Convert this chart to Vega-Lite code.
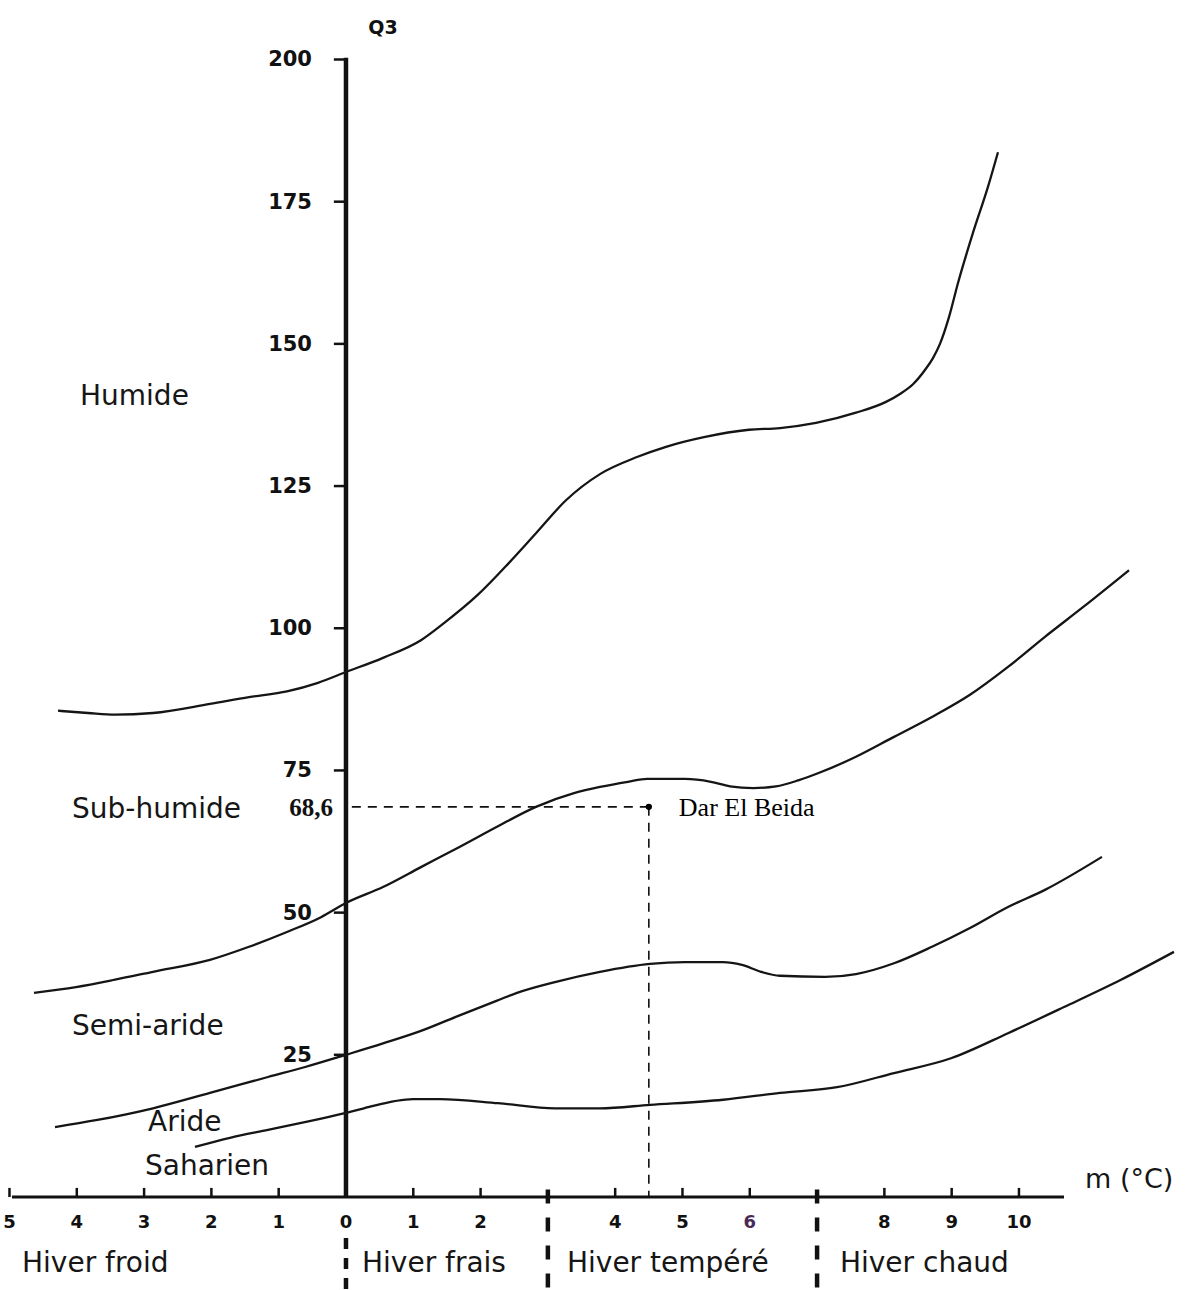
{
  "$schema": "https://vega.github.io/schema/vega-lite/v6.json",
  "width": 1185,
  "height": 1290,
  "autosize": "none",
  "padding": 0,
  "background": "white",
  "config": {"view": {"stroke": null}, "axis": {"disable": true}},
  "datasets": {
    "boundaries": [
      {"boundary": "Humide / Sub-humide", "m": -4.279, "Q3": 85.5},
      {"boundary": "Humide / Sub-humide", "m": -3.834, "Q3": 85.1},
      {"boundary": "Humide / Sub-humide", "m": -3.432, "Q3": 84.8},
      {"boundary": "Humide / Sub-humide", "m": -2.868, "Q3": 85.1},
      {"boundary": "Humide / Sub-humide", "m": -2.021, "Q3": 86.7},
      {"boundary": "Humide / Sub-humide", "m": -1.441, "Q3": 87.9},
      {"boundary": "Humide / Sub-humide", "m": -0.877, "Q3": 88.9},
      {"boundary": "Humide / Sub-humide", "m": -0.416, "Q3": 90.4},
      {"boundary": "Humide / Sub-humide", "m": 0, "Q3": 92.3},
      {"boundary": "Humide / Sub-humide", "m": 0.55, "Q3": 94.8},
      {"boundary": "Humide / Sub-humide", "m": 1.114, "Q3": 97.9},
      {"boundary": "Humide / Sub-humide", "m": 1.456, "Q3": 100.9},
      {"boundary": "Humide / Sub-humide", "m": 1.961, "Q3": 105.9},
      {"boundary": "Humide / Sub-humide", "m": 2.422, "Q3": 111.5},
      {"boundary": "Humide / Sub-humide", "m": 2.823, "Q3": 116.7},
      {"boundary": "Humide / Sub-humide", "m": 3.269, "Q3": 122.5},
      {"boundary": "Humide / Sub-humide", "m": 3.774, "Q3": 127.1},
      {"boundary": "Humide / Sub-humide", "m": 4.324, "Q3": 130.1},
      {"boundary": "Humide / Sub-humide", "m": 4.755, "Q3": 131.9},
      {"boundary": "Humide / Sub-humide", "m": 5.319, "Q3": 133.6},
      {"boundary": "Humide / Sub-humide", "m": 5.988, "Q3": 134.9},
      {"boundary": "Humide / Sub-humide", "m": 6.449, "Q3": 135.2},
      {"boundary": "Humide / Sub-humide", "m": 6.984, "Q3": 136.1},
      {"boundary": "Humide / Sub-humide", "m": 7.578, "Q3": 137.9},
      {"boundary": "Humide / Sub-humide", "m": 8.024, "Q3": 139.8},
      {"boundary": "Humide / Sub-humide", "m": 8.232, "Q3": 141.2},
      {"boundary": "Humide / Sub-humide", "m": 8.425, "Q3": 142.9},
      {"boundary": "Humide / Sub-humide", "m": 8.603, "Q3": 145.4},
      {"boundary": "Humide / Sub-humide", "m": 8.722, "Q3": 147.5},
      {"boundary": "Humide / Sub-humide", "m": 8.826, "Q3": 150.0},
      {"boundary": "Humide / Sub-humide", "m": 8.96, "Q3": 154.7},
      {"boundary": "Humide / Sub-humide", "m": 9.094, "Q3": 160.7},
      {"boundary": "Humide / Sub-humide", "m": 9.316, "Q3": 169.5},
      {"boundary": "Humide / Sub-humide", "m": 9.539, "Q3": 177.6},
      {"boundary": "Humide / Sub-humide", "m": 9.688, "Q3": 183.7},

      {"boundary": "Sub-humide / Semi-aride", "m": -4.636, "Q3": 35.9},
      {"boundary": "Sub-humide / Semi-aride", "m": -4.012, "Q3": 36.9},
      {"boundary": "Sub-humide / Semi-aride", "m": -3.432, "Q3": 38.2},
      {"boundary": "Sub-humide / Semi-aride", "m": -2.868, "Q3": 39.6},
      {"boundary": "Sub-humide / Semi-aride", "m": -2.021, "Q3": 41.7},
      {"boundary": "Sub-humide / Semi-aride", "m": -1.441, "Q3": 44.0},
      {"boundary": "Sub-humide / Semi-aride", "m": -0.877, "Q3": 46.6},
      {"boundary": "Sub-humide / Semi-aride", "m": -0.371, "Q3": 49.2},
      {"boundary": "Sub-humide / Semi-aride", "m": 0, "Q3": 51.7},
      {"boundary": "Sub-humide / Semi-aride", "m": 0.55, "Q3": 54.5},
      {"boundary": "Sub-humide / Semi-aride", "m": 1.114, "Q3": 58.0},
      {"boundary": "Sub-humide / Semi-aride", "m": 1.679, "Q3": 61.5},
      {"boundary": "Sub-humide / Semi-aride", "m": 2.244, "Q3": 65.1},
      {"boundary": "Sub-humide / Semi-aride", "m": 2.823, "Q3": 68.6},
      {"boundary": "Sub-humide / Semi-aride", "m": 3.388, "Q3": 71.0},
      {"boundary": "Sub-humide / Semi-aride", "m": 3.774, "Q3": 72.1},
      {"boundary": "Sub-humide / Semi-aride", "m": 4.19, "Q3": 73.0},
      {"boundary": "Sub-humide / Semi-aride", "m": 4.473, "Q3": 73.5},
      {"boundary": "Sub-humide / Semi-aride", "m": 5.037, "Q3": 73.5},
      {"boundary": "Sub-humide / Semi-aride", "m": 5.423, "Q3": 73.0},
      {"boundary": "Sub-humide / Semi-aride", "m": 5.706, "Q3": 72.2},
      {"boundary": "Sub-humide / Semi-aride", "m": 6.05, "Q3": 71.9},
      {"boundary": "Sub-humide / Semi-aride", "m": 6.389, "Q3": 72.2},
      {"boundary": "Sub-humide / Semi-aride", "m": 6.731, "Q3": 73.3},
      {"boundary": "Sub-humide / Semi-aride", "m": 7.013, "Q3": 74.5},
      {"boundary": "Sub-humide / Semi-aride", "m": 7.578, "Q3": 77.4},
      {"boundary": "Sub-humide / Semi-aride", "m": 8.143, "Q3": 80.9},
      {"boundary": "Sub-humide / Semi-aride", "m": 8.707, "Q3": 84.4},
      {"boundary": "Sub-humide / Semi-aride", "m": 9.272, "Q3": 88.3},
      {"boundary": "Sub-humide / Semi-aride", "m": 9.837, "Q3": 93.2},
      {"boundary": "Sub-humide / Semi-aride", "m": 10.386, "Q3": 98.5},
      {"boundary": "Sub-humide / Semi-aride", "m": 10.951, "Q3": 103.7},
      {"boundary": "Sub-humide / Semi-aride", "m": 11.635, "Q3": 110.2},

      {"boundary": "Semi-aride / Aride", "m": -4.324, "Q3": 12.3},
      {"boundary": "Semi-aride / Aride", "m": -3.715, "Q3": 13.5},
      {"boundary": "Semi-aride / Aride", "m": -2.868, "Q3": 15.6},
      {"boundary": "Semi-aride / Aride", "m": -2.021, "Q3": 18.3},
      {"boundary": "Semi-aride / Aride", "m": -1.159, "Q3": 21.1},
      {"boundary": "Semi-aride / Aride", "m": -0.594, "Q3": 22.9},
      {"boundary": "Semi-aride / Aride", "m": 0, "Q3": 25.0},
      {"boundary": "Semi-aride / Aride", "m": 0.55, "Q3": 27.0},
      {"boundary": "Semi-aride / Aride", "m": 1.114, "Q3": 29.2},
      {"boundary": "Semi-aride / Aride", "m": 1.679, "Q3": 31.9},
      {"boundary": "Semi-aride / Aride", "m": 2.259, "Q3": 34.6},
      {"boundary": "Semi-aride / Aride", "m": 2.541, "Q3": 35.9},
      {"boundary": "Semi-aride / Aride", "m": 3.105, "Q3": 37.8},
      {"boundary": "Semi-aride / Aride", "m": 3.774, "Q3": 39.6},
      {"boundary": "Semi-aride / Aride", "m": 4.517, "Q3": 41.0},
      {"boundary": "Semi-aride / Aride", "m": 5.037, "Q3": 41.3},
      {"boundary": "Semi-aride / Aride", "m": 5.602, "Q3": 41.3},
      {"boundary": "Semi-aride / Aride", "m": 5.884, "Q3": 40.8},
      {"boundary": "Semi-aride / Aride", "m": 6.166, "Q3": 39.6},
      {"boundary": "Semi-aride / Aride", "m": 6.449, "Q3": 38.9},
      {"boundary": "Semi-aride / Aride", "m": 7.117, "Q3": 38.7},
      {"boundary": "Semi-aride / Aride", "m": 7.578, "Q3": 39.2},
      {"boundary": "Semi-aride / Aride", "m": 8.143, "Q3": 41.1},
      {"boundary": "Semi-aride / Aride", "m": 8.707, "Q3": 44.0},
      {"boundary": "Semi-aride / Aride", "m": 9.272, "Q3": 47.3},
      {"boundary": "Semi-aride / Aride", "m": 9.837, "Q3": 51.0},
      {"boundary": "Semi-aride / Aride", "m": 10.386, "Q3": 54.0},
      {"boundary": "Semi-aride / Aride", "m": 11.233, "Q3": 59.8},

      {"boundary": "Aride / Saharien", "m": -2.244, "Q3": 8.8},
      {"boundary": "Aride / Saharien", "m": -1.724, "Q3": 10.4},
      {"boundary": "Aride / Saharien", "m": -1.159, "Q3": 11.8},
      {"boundary": "Aride / Saharien", "m": -0.594, "Q3": 13.2},
      {"boundary": "Aride / Saharien", "m": 0, "Q3": 14.8},
      {"boundary": "Aride / Saharien", "m": 0.267, "Q3": 15.6},
      {"boundary": "Aride / Saharien", "m": 0.996, "Q3": 17.2},
      {"boundary": "Aride / Saharien", "m": 1.397, "Q3": 17.2},
      {"boundary": "Aride / Saharien", "m": 2.259, "Q3": 16.5},
      {"boundary": "Aride / Saharien", "m": 3.105, "Q3": 15.6},
      {"boundary": "Aride / Saharien", "m": 3.774, "Q3": 15.6},
      {"boundary": "Aride / Saharien", "m": 4.517, "Q3": 16.2},
      {"boundary": "Aride / Saharien", "m": 5.602, "Q3": 17.1},
      {"boundary": "Aride / Saharien", "m": 6.449, "Q3": 18.3},
      {"boundary": "Aride / Saharien", "m": 7.296, "Q3": 19.3},
      {"boundary": "Aride / Saharien", "m": 8.143, "Q3": 21.8},
      {"boundary": "Aride / Saharien", "m": 8.99, "Q3": 24.4},
      {"boundary": "Aride / Saharien", "m": 9.837, "Q3": 28.8},
      {"boundary": "Aride / Saharien", "m": 10.669, "Q3": 33.4},
      {"boundary": "Aride / Saharien", "m": 11.516, "Q3": 38.2},
      {"boundary": "Aride / Saharien", "m": 12.303, "Q3": 43.1}
    ],
    "qticks": [
      {"Q3": 200, "label": "200"},
      {"Q3": 175, "label": "175"},
      {"Q3": 150, "label": "150"},
      {"Q3": 125, "label": "125"},
      {"Q3": 100, "label": "100"},
      {"Q3": 75, "label": "75"},
      {"Q3": 50, "label": "50"},
      {"Q3": 25, "label": "25"}
    ],
    "mticks": [
      {"m": -5, "label": "5"},
      {"m": -4, "label": "4"},
      {"m": -3, "label": "3"},
      {"m": -2, "label": "2"},
      {"m": -1, "label": "1"},
      {"m": 0, "label": "0"},
      {"m": 1, "label": "1"},
      {"m": 2, "label": "2"},
      {"m": 4, "label": "4"},
      {"m": 5, "label": "5"},
      {"m": 6, "label": "6"},
      {"m": 8, "label": "8"},
      {"m": 9, "label": "9"},
      {"m": 10, "label": "10"}
    ],
    "station": [
      {"station": "Dar El Beida", "m": 4.5, "Q3": 68.6, "Q3_label": "68,6"}
    ],
    "regions": [
      {"region": "Humide", "m": -3.952, "Q3": 140.7},
      {"region": "Sub-humide", "m": -4.071, "Q3": 68.0},
      {"region": "Semi-aride", "m": -4.071, "Q3": 29.9},
      {"region": "Aride", "m": -2.942, "Q3": 13.0},
      {"region": "Saharien", "m": -2.987, "Q3": 5.3}
    ],
    "winters": [
      {"winter": "Hiver froid", "m": -4.814, "Q3": -11.8},
      {"winter": "Hiver frais", "m": 0.238, "Q3": -11.8},
      {"winter": "Hiver tempéré", "m": 3.284, "Q3": -11.8},
      {"winter": "Hiver chaud", "m": 7.34, "Q3": -11.8}
    ],
    "titles": [
      {"title": "Q3", "m": 0.55, "Q3": 205.5, "anchor": "center"},
      {"title": "m (°C)", "m": 10.981, "Q3": 3.0, "anchor": "left"}
    ]
  },
  "layer": [
    {
      "data": {"values": [{"axis": "Q3"}]},
      "mark": {"type": "rule", "color": "#111", "strokeWidth": 4.5},
      "encoding": {
        "x": {"datum": 0, "type": "quantitative", "scale": {"domain": [-5.141, 12.467], "nice": false, "zero": false}},
        "y": {"datum": 200.3, "type": "quantitative", "scale": {"domain": [-16.35, 210.46], "nice": false, "zero": false}},
        "y2": {"datum": 0}
      }
    },
    {
      "data": {"values": [{"axis": "m"}]},
      "mark": {"type": "rule", "color": "#111", "strokeWidth": 3},
      "encoding": {
        "x": {"datum": -4.963, "type": "quantitative"},
        "x2": {"datum": 10.669},
        "y": {"datum": 0, "type": "quantitative"}
      }
    },
    {
      "data": {"name": "qticks"},
      "mark": {"type": "rule", "color": "#111", "strokeWidth": 2.5},
      "encoding": {
        "x": {"datum": -0.18, "type": "quantitative"},
        "x2": {"datum": 0},
        "y": {"field": "Q3", "type": "quantitative"}
      }
    },
    {
      "data": {"name": "qticks"},
      "mark": {"type": "text", "align": "right", "baseline": "middle", "dx": -34, "dy": 1, "font": "DejaVu Sans", "fontWeight": "bold", "fontSize": 21, "color": "#111"},
      "encoding": {
        "x": {"datum": 0, "type": "quantitative"},
        "y": {"field": "Q3", "type": "quantitative"},
        "text": {"field": "label", "type": "nominal"}
      }
    },
    {
      "data": {"name": "mticks"},
      "mark": {"type": "rule", "color": "#111", "strokeWidth": 2.5},
      "encoding": {
        "x": {"field": "m", "type": "quantitative"},
        "y": {"datum": 0, "type": "quantitative"},
        "y2": {"datum": 1.6}
      }
    },
    {
      "data": {"name": "mticks"},
      "transform": [{"filter": "datum.m !== 6"}],
      "mark": {"type": "text", "align": "center", "baseline": "middle", "dy": 26, "font": "DejaVu Sans", "fontWeight": "bold", "fontSize": 18, "color": "#111"},
      "encoding": {
        "x": {"field": "m", "type": "quantitative"},
        "y": {"datum": 0, "type": "quantitative"},
        "text": {"field": "label", "type": "nominal"}
      }
    },
    {
      "data": {"name": "mticks"},
      "transform": [{"filter": "datum.m === 6"}],
      "mark": {"type": "text", "align": "center", "baseline": "middle", "dy": 26, "font": "DejaVu Sans", "fontWeight": "bold", "fontSize": 18, "color": "#4b2a58"},
      "encoding": {
        "x": {"field": "m", "type": "quantitative"},
        "y": {"datum": 0, "type": "quantitative"},
        "text": {"field": "label", "type": "nominal"}
      }
    },
    {
      "data": {"values": [{"m": 3}, {"m": 7}]},
      "mark": {"type": "rule", "color": "#111", "strokeWidth": 4.5, "strokeDash": [14, 14]},
      "encoding": {
        "x": {"field": "m", "type": "quantitative"},
        "y": {"datum": 1.3, "type": "quantitative"},
        "y2": {"datum": -16.2}
      }
    },
    {
      "data": {"values": [{"m": 0}]},
      "mark": {"type": "rule", "color": "#111", "strokeWidth": 4.5, "strokeDash": [11, 9]},
      "encoding": {
        "x": {"field": "m", "type": "quantitative"},
        "y": {"datum": -7.2, "type": "quantitative"},
        "y2": {"datum": -16.2}
      }
    },
    {
      "data": {"name": "boundaries"},
      "mark": {"type": "line", "color": "#151515", "strokeWidth": 2.3, "interpolate": "monotone"},
      "encoding": {
        "x": {"field": "m", "type": "quantitative"},
        "y": {"field": "Q3", "type": "quantitative"},
        "detail": {"field": "boundary", "type": "nominal"}
      }
    },
    {
      "data": {"name": "station"},
      "mark": {"type": "rule", "color": "#111", "strokeWidth": 1.6, "strokeDash": [9, 7]},
      "encoding": {
        "x": {"field": "m", "type": "quantitative"},
        "x2": {"datum": 0.06},
        "y": {"field": "Q3", "type": "quantitative"}
      }
    },
    {
      "data": {"name": "station"},
      "mark": {"type": "rule", "color": "#111", "strokeWidth": 1.6, "strokeDash": [9, 7]},
      "encoding": {
        "x": {"field": "m", "type": "quantitative"},
        "y": {"field": "Q3", "type": "quantitative"},
        "y2": {"datum": 0}
      }
    },
    {
      "data": {"name": "station"},
      "mark": {"type": "point", "filled": true, "color": "#000", "size": 40, "opacity": 1},
      "encoding": {
        "x": {"field": "m", "type": "quantitative"},
        "y": {"field": "Q3", "type": "quantitative"}
      }
    },
    {
      "data": {"name": "station"},
      "mark": {"type": "text", "align": "left", "baseline": "middle", "dx": 30, "dy": 1, "font": "Liberation Serif", "fontSize": 26, "color": "#000"},
      "encoding": {
        "x": {"field": "m", "type": "quantitative"},
        "y": {"field": "Q3", "type": "quantitative"},
        "text": {"field": "station", "type": "nominal"}
      }
    },
    {
      "data": {"name": "station"},
      "mark": {"type": "text", "align": "right", "baseline": "middle", "dx": -13, "dy": 1, "font": "Liberation Serif", "fontWeight": "bold", "fontSize": 25, "color": "#111"},
      "encoding": {
        "x": {"datum": 0, "type": "quantitative"},
        "y": {"field": "Q3", "type": "quantitative"},
        "text": {"field": "Q3_label", "type": "nominal"}
      }
    },
    {
      "data": {"name": "regions"},
      "mark": {"type": "text", "align": "left", "baseline": "middle", "font": "DejaVu Sans", "fontSize": 28, "color": "#161616"},
      "encoding": {
        "x": {"field": "m", "type": "quantitative"},
        "y": {"field": "Q3", "type": "quantitative"},
        "text": {"field": "region", "type": "nominal"}
      }
    },
    {
      "data": {"name": "winters"},
      "mark": {"type": "text", "align": "left", "baseline": "middle", "font": "DejaVu Sans", "fontSize": 28, "color": "#161616"},
      "encoding": {
        "x": {"field": "m", "type": "quantitative"},
        "y": {"field": "Q3", "type": "quantitative"},
        "text": {"field": "winter", "type": "nominal"}
      }
    },
    {
      "data": {"name": "titles"},
      "transform": [{"filter": "datum.anchor === 'center'"}],
      "mark": {"type": "text", "align": "center", "baseline": "middle", "font": "DejaVu Sans", "fontWeight": "bold", "fontSize": 19, "color": "#111"},
      "encoding": {
        "x": {"field": "m", "type": "quantitative"},
        "y": {"field": "Q3", "type": "quantitative"},
        "text": {"field": "title", "type": "nominal"}
      }
    },
    {
      "data": {"name": "titles"},
      "transform": [{"filter": "datum.anchor === 'left'"}],
      "mark": {"type": "text", "align": "left", "baseline": "middle", "font": "DejaVu Sans", "fontSize": 27, "color": "#161616"},
      "encoding": {
        "x": {"field": "m", "type": "quantitative"},
        "y": {"field": "Q3", "type": "quantitative"},
        "text": {"field": "title", "type": "nominal"}
      }
    }
  ]
}
